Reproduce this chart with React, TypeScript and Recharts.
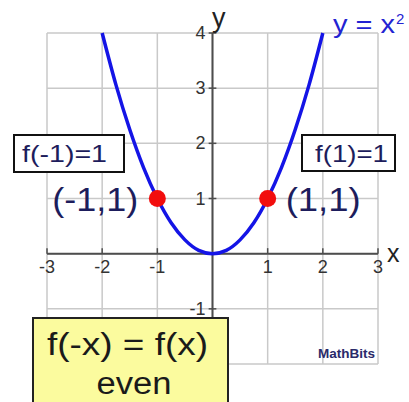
import React from 'react'
import { ComposedChart, Line, Scatter, XAxis, YAxis, ReferenceLine } from 'recharts'

// parabola y = x^2 sampled along the drawn curve
const curveX = [-2, -1.75, -1.5, -1.25, -1, -0.75, -0.5, -0.25, 0, 0.25, 0.5, 0.75, 1, 1.25, 1.5, 1.75, 2]
const curveY = [4, 3.06, 2.25, 1.56, 1, 0.56, 0.25, 0.06, 0, 0.06, 0.25, 0.56, 1, 1.56, 2.25, 3.06, 4]

// highlighted points
const pointX = [-1, 1]
const pointY = [1, 1]
const pointLabels = ['(-1,1)', '(1,1)']

// grid and tick labels
const gridX = [-3, -2, -1, 0, 1, 2, 3]
const gridY = [-2, -1, 0, 1, 2, 3, 4]
const xLabelTicks = [-3, -2, -1, 1, 2, 3]
const yLabelTicks = [-2, -1, 1, 2, 3, 4]

const curveData = curveX.map((x, i) => ({ x, y: curveY[i] }))
const pointData = pointX.map((x, i) => ({ x, y: pointY[i], text: pointLabels[i] }))
const xLabelData = xLabelTicks.map((x) => ({ x, y: 0, text: String(x) }))
const yLabelData = yLabelTicks.map((y) => ({ x: 0, y, text: String(y) }))

const FONT = '"Liberation Sans", Arial, sans-serif'
const GRID = '#c9c9c9'
const AXIS = '#4d4d4d'
const NAVY = '#1d1d5c'

function XTickLabel(props: any) {
  const { cx, cy, payload } = props
  return (
    <text x={cx} y={cy + 19} textAnchor="middle" fontSize={18} fill="#333" fontFamily={FONT}>
      {payload.text}
    </text>
  )
}

function YTickLabel(props: any) {
  const { cx, cy, payload } = props
  return (
    <text x={cx - 7} y={cy + 6} textAnchor="end" fontSize={18} fill="#333" fontFamily={FONT}>
      {payload.text}
    </text>
  )
}

function PointMark(props: any) {
  const { cx, cy, payload } = props
  const left = payload.x < 0
  return (
    <g>
      <circle cx={cx} cy={cy} r={8.5} fill="#f20d0d" />
      <text
        x={left ? cx - 105 : cx + 18}
        y={cy + 12}
        fontSize={33}
        fill={NAVY}
        fontFamily={FONT}
        textLength={left ? 86 : 75}
        lengthAdjust="spacingAndGlyphs"
      >
        {payload.text}
      </text>
    </g>
  )
}

export default function App() {
  return (
    <div style={{ position: 'fixed', left: 0, top: 0, width: 409, height: 402, background: '#fff', fontFamily: FONT }}>
      <ComposedChart width={409} height={402} margin={{ top: 33, right: 31, bottom: 38, left: 47 }}>
        <XAxis dataKey="x" type="number" domain={[-3, 3]} hide />
        <YAxis type="number" domain={[-2, 4]} hide />

        {gridX.map((v) => (
          <ReferenceLine key={'gx' + v} segment={[{ x: v, y: -2 }, { x: v, y: 4 }]} stroke={GRID} strokeWidth={1.5} />
        ))}
        {gridY.map((v) => (
          <ReferenceLine key={'gy' + v} segment={[{ x: -3, y: v }, { x: 3, y: v }]} stroke={GRID} strokeWidth={1.5} />
        ))}

        {/* axes through the origin */}
        <ReferenceLine segment={[{ x: 0, y: -2 }, { x: 0, y: 4 }]} stroke={AXIS} strokeWidth={2} />
        <ReferenceLine segment={[{ x: -3, y: 0 }, { x: 3, y: 0 }]} stroke={AXIS} strokeWidth={2} />
        {xLabelTicks.map((v) => (
          <ReferenceLine key={'tx' + v} segment={[{ x: v, y: 0 }, { x: v, y: 0.1 }]} stroke={AXIS} strokeWidth={1.5} />
        ))}
        {yLabelTicks.map((v) => (
          <ReferenceLine key={'ty' + v} segment={[{ x: -0.07, y: v }, { x: 0.07, y: v }]} stroke={AXIS} strokeWidth={1.5} />
        ))}

        <Scatter data={xLabelData} dataKey="y" shape={XTickLabel} isAnimationActive={false} />
        <Scatter data={yLabelData} dataKey="y" shape={YTickLabel} isAnimationActive={false} />

        <Line
          data={curveData}
          dataKey="y"
          type="monotone"
          stroke="#1414e6"
          strokeWidth={3.5}
          dot={false}
          isAnimationActive={false}
        />
        <Scatter data={pointData} dataKey="y" shape={PointMark} isAnimationActive={false} />
      </ComposedChart>

      <svg width={409} height={402} style={{ position: 'absolute', left: 0, top: 0, pointerEvents: 'none' }} fontFamily={FONT}>
        <text x={212} y={27} fontSize={27} fill="#222">y</text>
        <text x={387} y={262} fontSize={25} fill="#222">x</text>
        <text x={333} y={33} fontSize={25} fill="#2323d2" textLength={62} lengthAdjust="spacingAndGlyphs">y = x</text>
        <text x={396} y={24} fontSize={15} fill="#2323d2">2</text>

        <rect x={14} y={135} width={110} height={37} fill="#fff" stroke="#111" strokeWidth={2} />
        <text x={22} y={162} fontSize={24} fill={NAVY} textLength={85} lengthAdjust="spacingAndGlyphs">f(-1)=1</text>

        <rect x={302} y={135} width={93} height={36} fill="#fff" stroke="#111" strokeWidth={2} />
        <text x={315} y={162} fontSize={24} fill={NAVY} textLength={73} lengthAdjust="spacingAndGlyphs">f(1)=1</text>

        <text x={318} y={358} fontSize={13.5} fontWeight="bold" fill="#2a2a6a">MathBits</text>

        <rect x={33} y={318} width={195} height={90} fill="#fbfb9e" stroke="#222" strokeWidth={2} />
        <text x={47} y={355} fontSize={31} fill="#1a1a1a" textLength={161} lengthAdjust="spacingAndGlyphs">f(-x) = f(x)</text>
        <text x={134} y={394} fontSize={31} fill="#1a1a1a" textAnchor="middle" textLength={75} lengthAdjust="spacingAndGlyphs">even</text>
      </svg>
    </div>
  )
}
